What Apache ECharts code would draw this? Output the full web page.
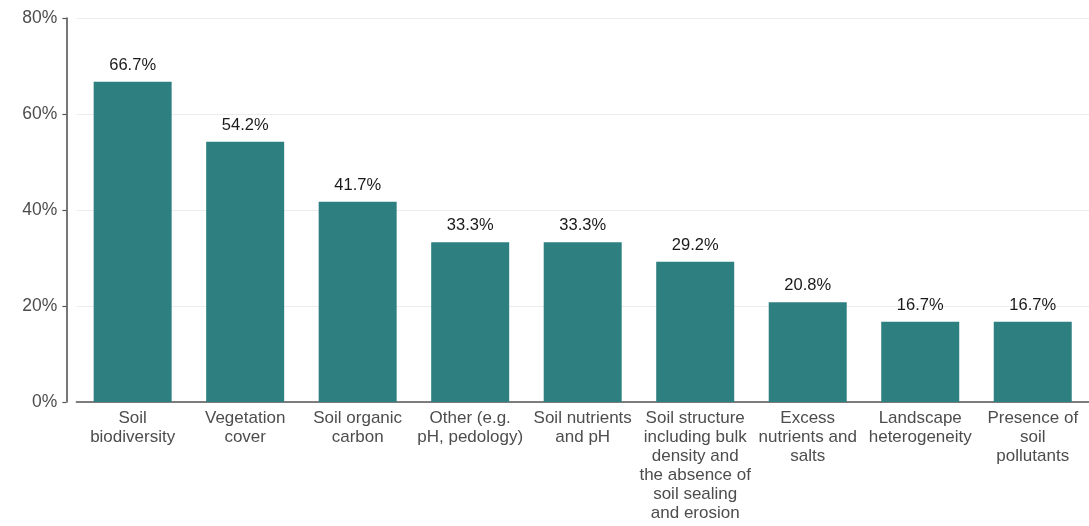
<!DOCTYPE html>
<html><head><meta charset="utf-8">
<script src="https://cdn.jsdelivr.net/npm/echarts@6/dist/echarts.min.js"></script>
<style>html,body{margin:0;padding:0;background:#fff}#c{width:1089px;height:526px}</style>
</head><body><div id="c"></div>
<script>
var categories = ["Soil\nbiodiversity","Vegetation\ncover","Soil organic\ncarbon","Other (e.g.\npH, pedology)","Soil nutrients\nand pH","Soil structure\nincluding bulk\ndensity and\nthe absence of\nsoil sealing\nand erosion","Excess\nnutrients and\nsalts","Landscape\nheterogeneity","Presence of\nsoil\npollutants"];
var values = [66.7, 54.2, 41.7, 33.3, 33.3, 29.2, 20.8, 16.7, 16.7];
var yTicks = [0, 20, 40, 60, 80];

var chart = echarts.init(document.getElementById('c'));
chart.setOption({
  animation: false,
  grid: {left: 76.4, top: 18, bottom: 124, width: 1019.25},
  xAxis: {
    type: 'category', data: categories,
    axisLine: {lineStyle: {color: '#555', width: 1.6}},
    axisTick: {alignWithLabel: true, length: 4, lineStyle: {color: '#555', width: 1.2}},
    axisLabel: {color: '#4d4d4d', fontFamily: 'Liberation Sans', fontSize: 17, lineHeight: 19, margin: 7, interval: 0}
  },
  yAxis: {
    type: 'value', min: yTicks[0], max: yTicks[yTicks.length-1], interval: 20, offset: 10,
    axisLine: {show: true, lineStyle: {color: '#555', width: 1.6}},
    axisTick: {show: true, length: 4, lineStyle: {color: '#555', width: 1.2}},
    axisLabel: {color: '#4d4d4d', fontFamily: 'Liberation Sans', fontSize: 17.5, formatter: '{value}%', margin: 9},
    splitLine: {lineStyle: {color: '#ececec', width: 1}}
  },
  series: [{
    type: 'bar', data: values, barWidth: 78,
    itemStyle: {color: '#2e7f80'},
    label: {show: true, position: 'top', distance: 8, color: '#1a1a1a', fontFamily: 'Liberation Sans', fontSize: 16.5,
      formatter: function(p){ return p.value.toFixed(1) + '%'; }}
  }]
});
</script></body></html>
